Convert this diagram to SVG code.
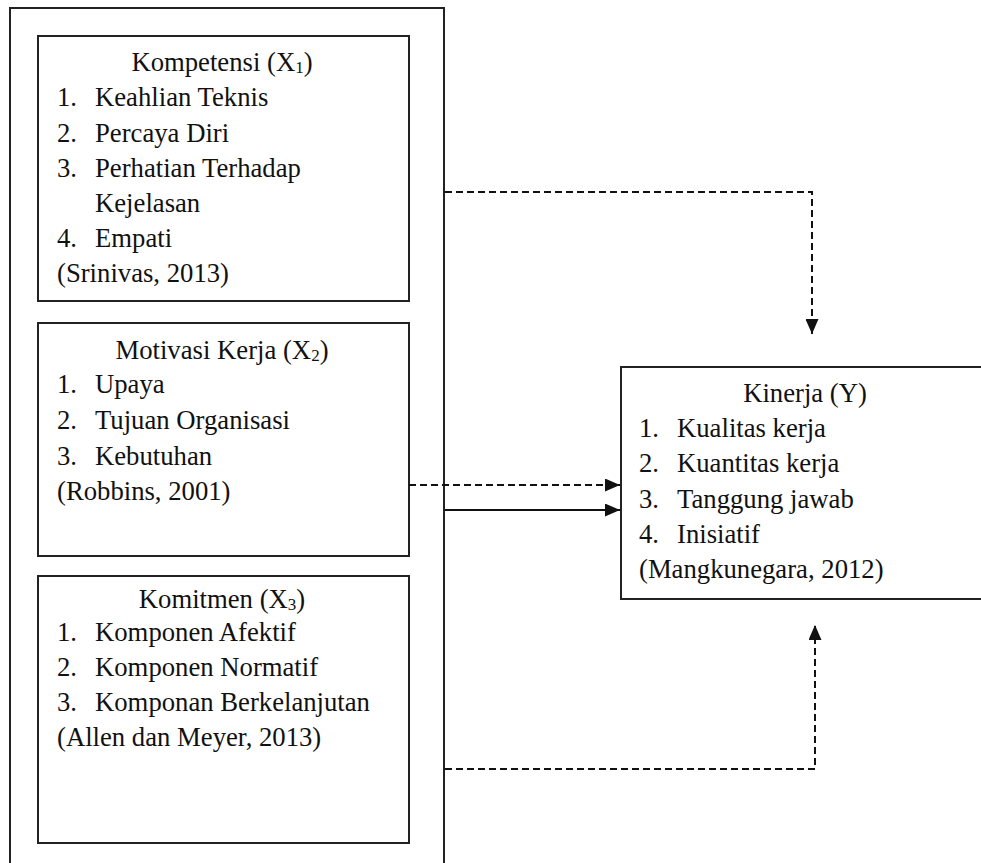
<svg xmlns="http://www.w3.org/2000/svg" width="981" height="863" viewBox="0 0 981 863">
<defs>
<style>
.box{fill:#fff;stroke:#222;stroke-width:2}
.t{font-family:'Liberation Serif','Times New Roman',serif;font-size:26.7px;fill:#111}
.c{text-anchor:middle}
.sub{font-size:17px}
.ln{fill:none;stroke:#111;stroke-width:2}
.dash{stroke-dasharray:7 4}
</style>
<marker id="ah" markerUnits="userSpaceOnUse" markerWidth="15" markerHeight="13" refX="15" refY="6.5" orient="auto">
<path d="M0,0 L15,6.5 L0,13 z" fill="#111"/>
</marker>
</defs>
<rect width="981" height="863" fill="#fff"/>
<g id="outer"><rect class="box" x="10" y="8" width="434" height="880"/></g>
<g id="x1">
<rect class="box" x="38" y="36" width="371" height="265"/>
<text class="t c" x="222" y="71">Kompetensi (X<tspan class="sub" dy="2">1</tspan><tspan dy="-2">)</tspan></text>
<text class="t" x="57" y="106">1.</text><text class="t" x="95" y="106">Keahlian Teknis</text>
<text class="t" x="57" y="142">2.</text><text class="t" x="95" y="142">Percaya Diri</text>
<text class="t" x="57" y="177">3.</text><text class="t" x="95" y="177">Perhatian Terhadap</text>
<text class="t" x="95" y="212">Kejelasan</text>
<text class="t" x="57" y="247">4.</text><text class="t" x="95" y="247">Empati</text>
<text class="t" x="57" y="282">(Srinivas, 2013)</text>
</g>
<g id="x2">
<rect class="box" x="38" y="323" width="371" height="233"/>
<text class="t c" x="222" y="359">Motivasi Kerja (X<tspan class="sub" dy="2">2</tspan><tspan dy="-2">)</tspan></text>
<text class="t" x="57" y="393">1.</text><text class="t" x="95" y="393">Upaya</text>
<text class="t" x="57" y="429">2.</text><text class="t" x="95" y="429">Tujuan Organisasi</text>
<text class="t" x="57" y="465">3.</text><text class="t" x="95" y="465">Kebutuhan</text>
<text class="t" x="57" y="500">(Robbins, 2001)</text>
</g>
<g id="x3">
<rect class="box" x="38" y="576" width="371" height="267"/>
<text class="t c" x="222" y="608">Komitmen (X<tspan class="sub" dy="2">3</tspan><tspan dy="-2">)</tspan></text>
<text class="t" x="57" y="641">1.</text><text class="t" x="95" y="641">Komponen Afektif</text>
<text class="t" x="57" y="676">2.</text><text class="t" x="95" y="676">Komponen Normatif</text>
<text class="t" x="57" y="711">3.</text><text class="t" x="95" y="711">Komponan Berkelanjutan</text>
<text class="t" x="57" y="746">(Allen dan Meyer, 2013)</text>
</g>
<g id="y">
<rect class="box" x="621" y="367" width="375" height="232"/>
<text class="t c" x="805" y="402">Kinerja (Y)</text>
<text class="t" x="639" y="437">1.</text><text class="t" x="677" y="437">Kualitas kerja</text>
<text class="t" x="639" y="472">2.</text><text class="t" x="677" y="472">Kuantitas kerja</text>
<text class="t" x="639" y="508">3.</text><text class="t" x="677" y="508">Tanggung jawab</text>
<text class="t" x="639" y="543">4.</text><text class="t" x="677" y="543">Inisiatif</text>
<text class="t" x="639" y="578">(Mangkunegara, 2012)</text>
</g>
<g id="connectors">
<path class="ln dash" d="M445,192 H812 V334" marker-end="url(#ah)"/>
<path class="ln dash" d="M409,485 H620" marker-end="url(#ah)"/>
<path class="ln" d="M445,510 H620" marker-end="url(#ah)"/>
<path class="ln dash" d="M445,769 H815 V625" marker-end="url(#ah)"/>
</g>
</svg>
